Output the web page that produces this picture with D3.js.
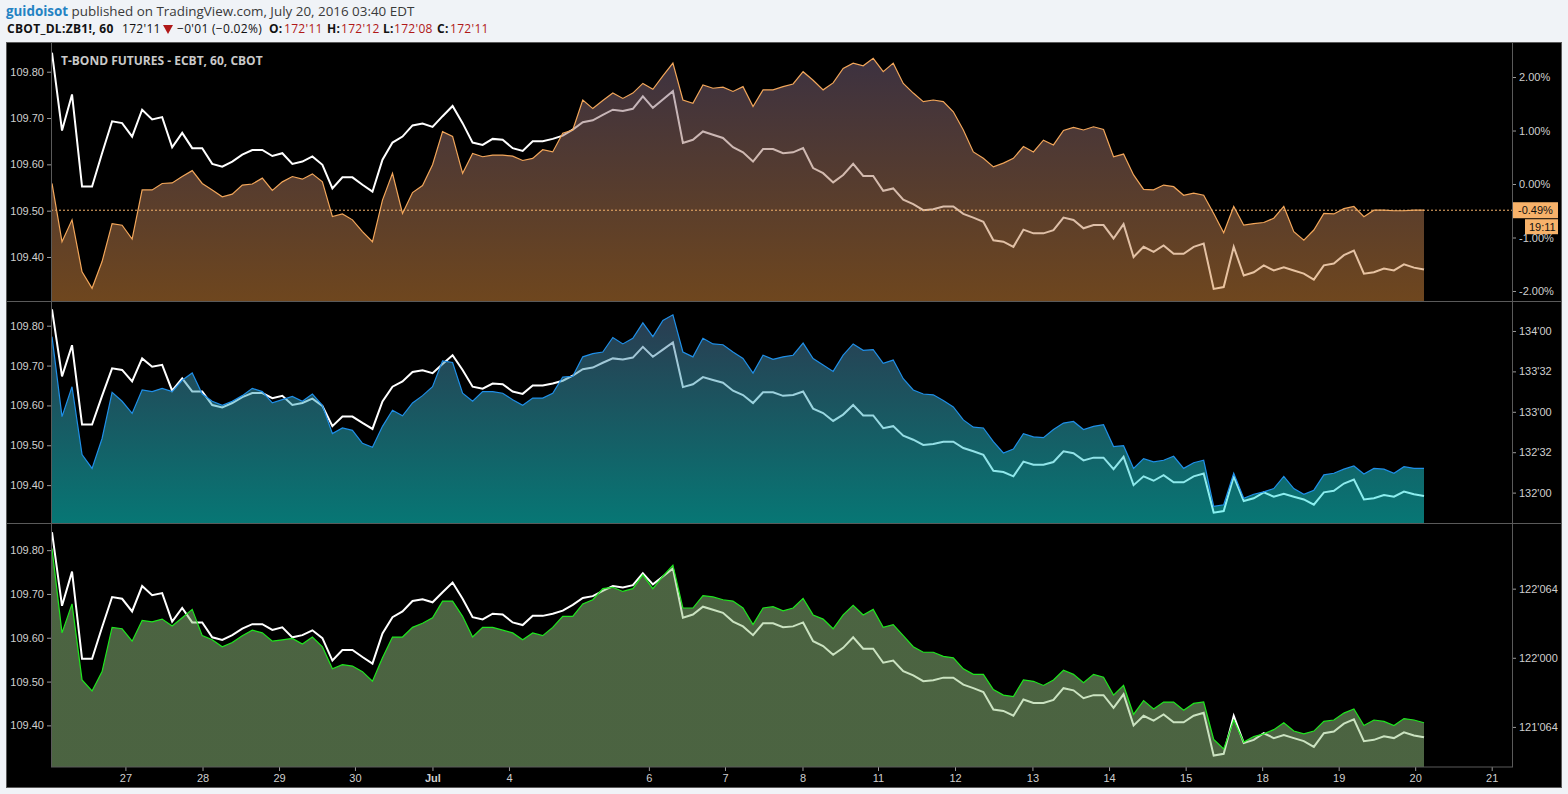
<!DOCTYPE html>
<html>
<head>
<meta charset="utf-8">
<script src="https://cdn.jsdelivr.net/npm/d3@7"></script>
<style>
  body { margin: 0; background: #f0f3f7; }
  svg { display: block; }
</style>
</head>
<body>
<div id="chart"></div>
<script>
// hourly T-Bond futures close (left axis, shared by the three panes)
const bondClose = [
  109.841, 109.673, 109.751, 109.552, 109.552, 109.624, 109.693, 109.689, 109.660, 109.718,
  109.697, 109.702, 109.637, 109.668, 109.635, 109.635, 109.601, 109.595, 109.606, 109.621,
  109.631, 109.631, 109.618, 109.624, 109.601, 109.606, 109.617, 109.599, 109.548, 109.572,
  109.572, 109.556, 109.541, 109.610, 109.647, 109.660, 109.684, 109.688, 109.681, 109.704,
  109.726, 109.689, 109.647, 109.642, 109.655, 109.653, 109.635, 109.629, 109.650, 109.650,
  109.655, 109.662, 109.675, 109.691, 109.695, 109.707, 109.718, 109.715, 109.720, 109.747,
  109.722, 109.740, 109.758, 109.646, 109.653, 109.671, 109.664, 109.657, 109.637, 109.626,
  109.606, 109.633, 109.633, 109.624, 109.626, 109.635, 109.592, 109.581, 109.561, 109.577,
  109.601, 109.575, 109.575, 109.543, 109.548, 109.524, 109.514, 109.501, 109.503, 109.509,
  109.509, 109.493, 109.485, 109.476, 109.436, 109.433, 109.422, 109.459, 109.451, 109.451,
  109.458, 109.485, 109.480, 109.462, 109.469, 109.469, 109.440, 109.471, 109.400, 109.422,
  109.411, 109.425, 109.407, 109.407, 109.422, 109.429, 109.331, 109.335, 109.422, 109.360,
  109.367, 109.382, 109.371, 109.378, 109.371, 109.364, 109.351, 109.382, 109.386, 109.404,
  109.414, 109.364, 109.367, 109.375, 109.371, 109.384, 109.377, 109.373
];

// pane 1: percent change (right axis)
const pctChange = [
  0.01, -1.08, -0.67, -1.64, -1.95, -1.45, -0.74, -0.77, -1.03, -0.11,
  -0.11, 0.01, 0.02, 0.14, 0.25, 0.01, -0.11, -0.24, -0.19, -0.02,
  0.00, 0.11, -0.12, 0.04, 0.14, 0.09, 0.19, 0.04, -0.61, -0.56,
  -0.67, -0.89, -1.08, -0.30, 0.20, -0.55, -0.16, -0.03, 0.36, 0.98,
  0.89, 0.20, 0.57, 0.51, 0.54, 0.54, 0.52, 0.44, 0.48, 0.64,
  0.60, 0.95, 1.01, 1.57, 1.41, 1.56, 1.70, 1.60, 1.70, 1.88,
  1.77, 2.02, 2.26, 1.57, 1.51, 1.85, 1.79, 1.81, 1.73, 1.82,
  1.45, 1.76, 1.76, 1.82, 1.87, 2.10, 1.94, 1.76, 1.89, 2.16,
  2.26, 2.21, 2.35, 2.10, 2.26, 1.88, 1.70, 1.54, 1.57, 1.54,
  1.35, 1.01, 0.60, 0.48, 0.32, 0.39, 0.48, 0.70, 0.60, 0.82,
  0.73, 1.00, 1.06, 1.01, 1.07, 1.02, 0.51, 0.56, 0.17, -0.10,
  -0.11, -0.02, -0.05, -0.21, -0.17, -0.21, -0.55, -0.91, -0.42, -0.77,
  -0.74, -0.72, -0.64, -0.42, -0.89, -1.05, -0.86, -0.55, -0.56, -0.46,
  -0.42, -0.61, -0.49, -0.49, -0.50, -0.50, -0.49, -0.49
];

// pane 2: price in 64ths (right axis)
const bluePrice = [
  133.93, 132.94, 133.31, 132.47, 132.30, 132.67, 133.24, 133.13, 132.98, 133.27,
  133.25, 133.29, 133.25, 133.39, 133.48, 133.22, 133.13, 133.08, 133.13, 133.20,
  133.29, 133.25, 133.11, 133.15, 133.19, 133.13, 133.22, 133.08, 132.73, 132.80,
  132.77, 132.61, 132.56, 132.82, 133.02, 132.95, 133.11, 133.20, 133.31, 133.63,
  133.61, 133.23, 133.13, 133.25, 133.25, 133.23, 133.15, 133.08, 133.17, 133.17,
  133.23, 133.43, 133.44, 133.68, 133.72, 133.74, 133.92, 133.84, 133.91, 134.10,
  133.93, 134.13, 134.20, 133.74, 133.68, 133.91, 133.84, 133.83, 133.74, 133.66,
  133.48, 133.70, 133.65, 133.68, 133.70, 133.85, 133.66, 133.58, 133.50, 133.70,
  133.84, 133.76, 133.77, 133.60, 133.64, 133.41, 133.27, 133.22, 133.21, 133.14,
  133.06, 132.90, 132.81, 132.80, 132.63, 132.49, 132.54, 132.73, 132.69, 132.68,
  132.78, 132.86, 132.88, 132.78, 132.82, 132.84, 132.57, 132.58, 132.30, 132.42,
  132.38, 132.40, 132.45, 132.30, 132.37, 132.40, 131.83, 131.85, 132.24, 131.93,
  131.98, 132.01, 132.05, 132.20, 132.05, 131.98, 132.03, 132.22, 132.24, 132.29,
  132.33, 132.23, 132.30, 132.29, 132.24, 132.32, 132.30, 132.30
];

// pane 3: price in 128ths (right axis)
const greenPrice = [
  122.79, 122.18, 122.39, 121.84, 121.76, 121.90, 122.22, 122.21, 122.12, 122.27,
  122.26, 122.28, 122.23, 122.29, 122.35, 122.16, 122.13, 122.08, 122.11, 122.16,
  122.20, 122.18, 122.12, 122.13, 122.14, 122.10, 122.15, 122.08, 121.92, 121.95,
  121.94, 121.90, 121.83, 122.00, 122.15, 122.15, 122.22, 122.25, 122.29, 122.41,
  122.41, 122.30, 122.15, 122.22, 122.22, 122.20, 122.18, 122.13, 122.18, 122.16,
  122.22, 122.30, 122.30, 122.39, 122.42, 122.50, 122.51, 122.48, 122.50, 122.60,
  122.50, 122.59, 122.67, 122.36, 122.36, 122.45, 122.44, 122.42, 122.41, 122.36,
  122.24, 122.36, 122.37, 122.34, 122.36, 122.43, 122.31, 122.28, 122.21, 122.31,
  122.38, 122.31, 122.35, 122.22, 122.24, 122.16, 122.08, 122.04, 122.04, 122.01,
  122.00, 121.92, 121.88, 121.88, 121.77, 121.73, 121.72, 121.84, 121.83, 121.80,
  121.84, 121.91, 121.88, 121.82, 121.88, 121.86, 121.73, 121.80, 121.59, 121.69,
  121.63, 121.68, 121.68, 121.62, 121.67, 121.68, 121.41, 121.34, 121.55, 121.39,
  121.43, 121.45, 121.48, 121.53, 121.47, 121.45, 121.47, 121.54, 121.55, 121.60,
  121.63, 121.51, 121.55, 121.54, 121.51, 121.56, 121.55, 121.53
];

// day ticks (position in bars) and their labels
const dayTicks = [7.33, 15.03, 22.67, 30.25, 37.99, 45.63, 59.6, 67.2, 74.94, 82.48,
  90.17, 97.9, 105.55, 113.2, 120.84, 128.48, 136.12, 143.76];
const dayLabels = ['27', '28', '29', '30', 'Jul', '4', '6', '7', '8', '11',
  '12', '13', '14', '15', '18', '19', '20', '21'];

const leftTicks = [109.4, 109.5, 109.6, 109.7, 109.8];
const pctTicks = [-2, -1, 0, 1, 2];
const blueTicks = [132, 132.5, 133, 133.5, 134];
const greenTicks = [121.5, 122, 122.5];

const W = 1568, H = 794;
const plotLeft = 51, plotRight = 1512;
const axisFont = '"Liberation Sans", Arial, sans-serif';

const svg = d3.select('#chart').append('svg')
  .attr('width', W)
  .attr('height', H);

// header
const head1 = svg.append('text')
  .attr('x', 6).attr('y', 16)
  .style('font-family', '"Open Sans", sans-serif')
  .style('font-size', '13.4px');
head1.append('tspan').text('guidoisot').attr('fill', '#2382c3').attr('font-weight', 'bold');
head1.append('tspan').text(' published on TradingView.com, July 20, 2016 03:40 EDT').attr('fill', '#3a3a3a');

const head2 = svg.append('g')
  .style('font-family', '"Open Sans", sans-serif')
  .style('font-size', '12px')
  .style('letter-spacing', '0.3px');
const headParts = [
  {x: 7, t: 'CBOT_DL:ZB1!, 60', c: '#111', b: true},
  {x: 122, t: "172'11", c: '#111'},
  {x: 177, t: '\u22120\'01 (\u22120.02%)', c: '#111'},
  {x: 269, t: 'O:', c: '#111', b: true},
  {x: 284, t: "172'11", c: '#b01818'},
  {x: 327, t: 'H:', c: '#111', b: true},
  {x: 341, t: "172'12", c: '#b01818'},
  {x: 383, t: 'L:', c: '#111', b: true},
  {x: 394, t: "172'08", c: '#b01818'},
  {x: 437, t: 'C:', c: '#111', b: true},
  {x: 450, t: "172'11", c: '#b01818'}
];
head2.selectAll('text')
  .data(headParts)
  .join('text')
  .attr('x', d => d.x)
  .attr('y', 33)
  .attr('fill', d => d.c)
  .attr('font-weight', d => d.b ? 'bold' : 'normal')
  .text(d => d.t);
head2.append('path')
  .attr('d', 'M163,25 L173,25 L168,34 Z')
  .attr('fill', '#b01818');

// black chart frame
svg.append('rect')
  .attr('x', 6.5).attr('y', 42.5)
  .attr('width', 1555).attr('height', 745)
  .attr('fill', '#000')
  .attr('stroke', '#5a5a5a');

const x = d3.scaleLinear()
  .domain([0, bondClose.length - 1])
  .range([52, 1424]);

const panels = [
  {top: 43, bottom: 301, values: pctChange, domain: [-2.187, 2.636], ticks: pctTicks,
    fmt: d => d.toFixed(2) + '%', line: '#f2a65a', stops: ['#726084', '#dc8c3c']},
  {top: 301, bottom: 523, values: bluePrice, domain: [131.624, 134.371], ticks: blueTicks,
    fmt: d => Math.floor(d) + "'" + String(Math.round((d % 1) * 64)).padStart(2, '0'),
    line: '#1f8fe8', stops: ['#58709c', '#0eece8']},
  {top: 523, bottom: 767, values: greenPrice, domain: [121.21, 122.975], ticks: greenTicks,
    fmt: d => Math.floor(d) + "'" + String(Math.round((d % 1) * 128)).padStart(3, '0'),
    line: '#1ee61e', stops: ['#96c682', '#96c682']}
];

const defs = svg.append('defs');

panels.forEach((p, i) => {
  const yL = d3.scaleLinear().domain([109.305, 109.862]).range([p.bottom, p.top]);
  const yR = d3.scaleLinear().domain(p.domain).range([p.bottom, p.top]);

  defs.append('clipPath').attr('id', 'clip' + i)
    .append('rect')
    .attr('x', plotLeft + 1).attr('y', p.top)
    .attr('width', plotRight - plotLeft - 1).attr('height', p.bottom - p.top);

  const grad = defs.append('linearGradient')
    .attr('id', 'grad' + i)
    .attr('gradientUnits', 'userSpaceOnUse')
    .attr('x1', 0).attr('x2', 0)
    .attr('y1', p.top).attr('y2', p.bottom);
  grad.append('stop').attr('offset', '0%').attr('stop-color', p.stops[0]);
  grad.append('stop').attr('offset', '100%').attr('stop-color', p.stops[1]);

  const g = svg.append('g').attr('clip-path', 'url(#clip' + i + ')');

  // bond line below, the area tints it where they overlap
  g.append('path')
    .datum(bondClose)
    .attr('d', d3.line().x((d, k) => x(k)).y(d => yL(d)))
    .attr('fill', 'none')
    .attr('stroke', '#fff')
    .attr('stroke-width', 2);

  g.append('path')
    .datum(p.values)
    .attr('d', d3.area().x((d, k) => x(k)).y0(p.bottom).y1(d => yR(d)))
    .attr('fill', 'url(#grad' + i + ')')
    .attr('fill-opacity', 0.5);

  g.append('path')
    .datum(p.values)
    .attr('d', d3.line().x((d, k) => x(k)).y(d => yR(d)))
    .attr('fill', 'none')
    .attr('stroke', p.line)
    .attr('stroke-width', 1.2);

  // axes
  const la = svg.append('g')
    .attr('transform', `translate(${plotLeft},0)`)
    .call(d3.axisLeft(yL).tickValues(leftTicks).tickSize(4).tickPadding(3).tickFormat(d3.format('.2f')));
  const ra = svg.append('g')
    .attr('transform', `translate(${plotRight},0)`)
    .call(d3.axisRight(yR).tickValues(p.ticks).tickSize(4).tickPadding(3).tickFormat(p.fmt));
  [la, ra].forEach(a => {
    a.select('.domain').remove();
    a.selectAll('line').attr('stroke', '#9a9a9a');
    a.selectAll('text').attr('fill', '#cfcfcf').style('font-family', axisFont).style('font-size', '11px');
  });

  if (i === 0) {
    const last = p.values[p.values.length - 1];
    const yl = yR(last);
    g.append('line')
      .attr('x1', plotLeft).attr('x2', plotRight)
      .attr('y1', yl).attr('y2', yl)
      .attr('stroke', '#f5b26b')
      .attr('stroke-dasharray', '2,2');

    svg.append('rect')
      .attr('x', plotRight).attr('y', yl - 8)
      .attr('width', 46).attr('height', 16)
      .attr('fill', '#f7b26a');
    svg.append('text')
      .attr('x', plotRight + 6).attr('y', yl + 4)
      .attr('fill', '#111')
      .style('font-family', axisFont).style('font-size', '11px')
      .text(last.toFixed(2) + '%');
    svg.append('rect')
      .attr('x', 1525).attr('y', yl + 9)
      .attr('width', 33).attr('height', 15)
      .attr('fill', '#f7b26a');
    svg.append('text')
      .attr('x', 1529).attr('y', yl + 20.5)
      .attr('fill', '#111')
      .style('font-family', axisFont).style('font-size', '11px')
      .text('19:11');

    svg.append('text')
      .attr('x', 61).attr('y', 65)
      .attr('fill', '#c9c9c9')
      .style('font-family', '"Open Sans", sans-serif')
      .style('font-size', '12px')
      .style('font-weight', 'bold')
      .text('T-BOND FUTURES - ECBT, 60, CBOT');
  }
});

// x axis
const xa = svg.append('g')
  .attr('transform', 'translate(0,767)')
  .call(d3.axisBottom(x).tickValues(dayTicks).tickSize(4).tickPadding(3)
    .tickFormat((d, i) => dayLabels[i]));
xa.select('.domain').remove();
xa.selectAll('line').attr('stroke', '#9a9a9a');
xa.selectAll('text')
  .attr('fill', '#cfcfcf')
  .style('font-family', axisFont)
  .style('font-size', '11px')
  .style('font-weight', (d, i) => dayLabels[i] === 'Jul' ? 'bold' : 'normal');

// pane borders
const border = '#5a5a5a';
svg.append('rect')
  .attr('x', plotLeft + 0.5).attr('y', 42.5)
  .attr('width', plotRight - plotLeft).attr('height', 767 - 42.5)
  .attr('fill', 'none').attr('stroke', border);
[301, 523].forEach(yb => {
  svg.append('line')
    .attr('x1', 7).attr('x2', 1561)
    .attr('y1', yb + 0.5).attr('y2', yb + 0.5)
    .attr('stroke', border);
});
</script>
</body>
</html>
